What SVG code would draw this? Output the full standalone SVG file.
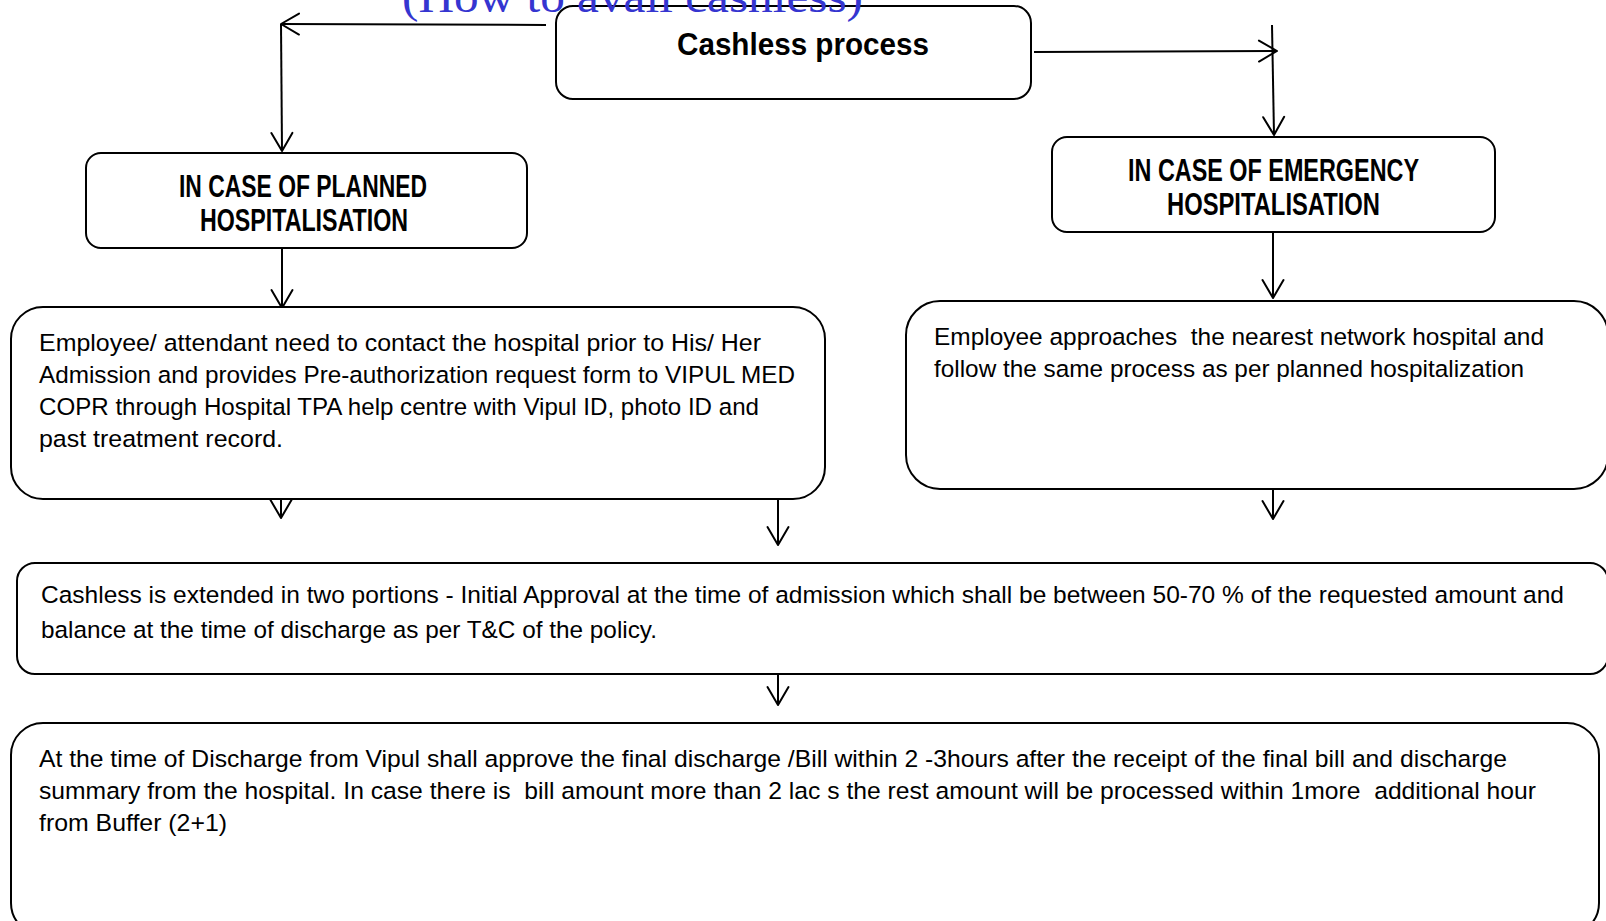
<svg xmlns="http://www.w3.org/2000/svg" width="1606" height="921" viewBox="0 0 1606 921">
<defs>
<marker id="arr" markerUnits="userSpaceOnUse" viewBox="-20 -12 22 24" refX="0" refY="0" markerWidth="22" markerHeight="24" orient="auto">
<path d="M-18,-10.5 L0,0 L-18,10.5" fill="none" stroke="#000" stroke-width="2" stroke-linecap="round" stroke-linejoin="round"/>
</marker>
<style>
.box{fill:#fff;stroke:#000;stroke-width:2}
.head{font-family:"Liberation Sans",Arial,sans-serif;font-weight:bold;font-size:31px;fill:#000}
.body{font-family:"Liberation Sans",Arial,sans-serif;font-size:24.5px;fill:#000;white-space:pre}
.con{fill:none;stroke:#000;stroke-width:2;marker-end:url(#arr)}
.title{font-family:"Liberation Serif","Times New Roman",serif;font-size:46px;fill:#3535d0}
</style>
</defs>
<rect width="1606" height="921" fill="#fff"/>
<g id="connectors">
<path class="con" d="M546,25 L281,24"/>
<path class="con" d="M281,24 L282,151"/>
<path class="con" d="M1034,52 L1277,51"/>
<path class="con" d="M1272,25 L1274,135"/>
<path class="con" d="M282,248 L282,308"/>
<path class="con" d="M1273,232 L1273,298"/>
<path class="con" d="M281,488 L281,518"/>
<path class="con" d="M778,499 L778,545"/>
<path class="con" d="M1273,490 L1273,519"/>
<path class="con" d="M778,675 L778,705"/>
</g>
<g id="cashless-process">
<rect class="box" x="556" y="6" width="475" height="93" rx="17"/>
<text class="head" x="677" y="55" font-size="34" textLength="252" lengthAdjust="spacingAndGlyphs">Cashless process</text>
</g>
<g id="planned-heading">
<rect class="box" x="86" y="153" width="441" height="95" rx="15"/>
<text class="head" x="179" y="197" textLength="248" lengthAdjust="spacingAndGlyphs">IN CASE OF PLANNED</text>
<text class="head" x="200" y="231" textLength="208" lengthAdjust="spacingAndGlyphs">HOSPITALISATION</text>
</g>
<g id="emergency-heading">
<rect class="box" x="1052" y="137" width="443" height="95" rx="15"/>
<text class="head" x="1128" y="181" textLength="291" lengthAdjust="spacingAndGlyphs">IN CASE OF EMERGENCY</text>
<text class="head" x="1167" y="215" textLength="213" lengthAdjust="spacingAndGlyphs">HOSPITALISATION</text>
</g>
<g id="planned-text">
<rect class="box" x="11" y="307" width="814" height="192" rx="32"/>
<text class="body" x="39" y="351" textLength="722" lengthAdjust="spacingAndGlyphs">Employee/ attendant need to contact the hospital prior to His/ Her</text>
<text class="body" x="39" y="383" textLength="756" lengthAdjust="spacingAndGlyphs">Admission and provides Pre-authorization request form to VIPUL MED</text>
<text class="body" x="39" y="415" textLength="720" lengthAdjust="spacingAndGlyphs">COPR through Hospital TPA help centre with Vipul ID, photo ID and</text>
<text class="body" x="39" y="447" textLength="244" lengthAdjust="spacingAndGlyphs">past treatment record.</text>
</g>
<g id="emergency-text">
<rect class="box" x="906" y="301" width="702" height="188" rx="34"/>
<text class="body" x="934" y="345" textLength="610" lengthAdjust="spacingAndGlyphs">Employee approaches  the nearest network hospital and</text>
<text class="body" x="934" y="377" textLength="590" lengthAdjust="spacingAndGlyphs">follow the same process as per planned hospitalization</text>
</g>
<g id="cashless-extended">
<rect class="box" x="17" y="563" width="1591" height="111" rx="18"/>
<text class="body" x="41" y="603" textLength="1523" lengthAdjust="spacingAndGlyphs">Cashless is extended in two portions - Initial Approval at the time of admission which shall be between 50-70 % of the requested amount and</text>
<text class="body" x="41" y="638" textLength="616" lengthAdjust="spacingAndGlyphs">balance at the time of discharge as per T&amp;C of the policy.</text>
</g>
<g id="discharge">
<rect class="box" x="11" y="723" width="1588" height="212" rx="32"/>
<text class="body" x="39" y="767" textLength="1468" lengthAdjust="spacingAndGlyphs">At the time of Discharge from Vipul shall approve the final discharge /Bill within 2 -3hours after the receipt of the final bill and discharge</text>
<text class="body" x="39" y="799" textLength="1497" lengthAdjust="spacingAndGlyphs">summary from the hospital. In case there is  bill amount more than 2 lac s the rest amount will be processed within 1more  additional hour</text>
<text class="body" x="39" y="831" textLength="188" lengthAdjust="spacingAndGlyphs">from Buffer (2+1)</text>
</g>
<g id="title">
<text class="title" x="402" y="12" textLength="461" lengthAdjust="spacingAndGlyphs">(How to avail cashless)</text>
</g>
</svg>
